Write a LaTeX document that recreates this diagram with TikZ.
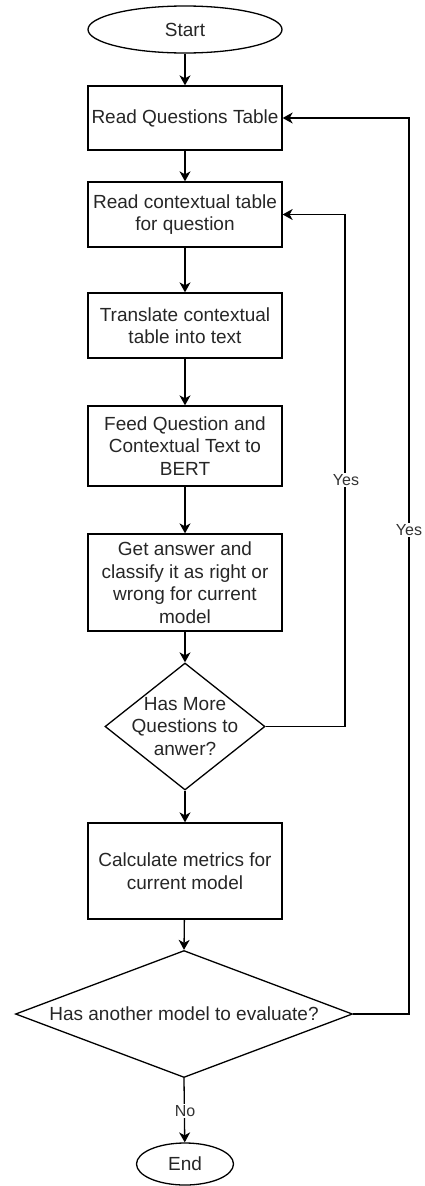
\documentclass[tikz,border=0pt]{standalone}
\usepackage{fontspec}
\setmainfont{Liberation Sans}
\usetikzlibrary{shapes.geometric,arrows.meta}
\tikzset{
  base/.style={draw=black, line width=1.3pt, inner sep=0pt, align=center,
    text=black!85, font=\fontsize{19}{22.5}\selectfont},
  procbox/.style={base, rectangle, minimum width=194pt},
  termnode/.style={base, ellipse},
  decnode/.style={base, diamond, aspect=1},
  txtnode/.style={inner sep=0pt, align=center, text=black!85, font=\fontsize{19}{22.5}\selectfont},
  conn/.style={draw=black, line width=1.3pt, -{Stealth[length=10pt,width=11pt,inset=3pt]}},
  lbl/.style={fill=white, inner sep=1.5pt, text=black!80, font=\fontsize{16}{18}\selectfont}
}
\begin{document}
\begin{tikzpicture}[x=1pt,y=-1pt]
\useasboundingbox (0,0) rectangle (425,1186);
\node[termnode, minimum width=194pt, minimum height=47pt] (start) at (185,29.5) {Start};
\node[procbox, minimum height=64pt] (b1) at (185,118) {Read Questions Table};
\node[procbox, minimum height=65pt] (b2) at (185,214.5) {Read contextual table\\for question};
\node[procbox, minimum height=65pt] (b3) at (185,325.5) {Translate contextual\\table into text};
\node[procbox, minimum height=80pt] (b4) at (185,446) {Feed Question and\\Contextual Text to\\BERT};
\node[procbox, minimum height=97pt] (b5) at (185,582.5) {Get answer and\\classify it as right or\\wrong for current\\model};
\node[decnode, minimum width=160pt, minimum height=127pt] (d1) at (185,726.5) {};
\node[txtnode] (d1t) at (d1.center) {Has More\\Questions to\\anwer?};
\node[procbox, minimum height=96pt] (b6) at (185,871) {Calculate metrics for\\current model};
\node[decnode, minimum width=337pt, minimum height=127pt] (d2) at (184,1014) {};
\node[txtnode] (d2t) at (d2.center) {Has another model to evaluate?};
\node[termnode, minimum width=97pt, minimum height=42pt] (end) at (185,1164) {End};
\coordinate (c1a) at (345,726.5);
\coordinate (c1b) at (345,214.5);
\coordinate (c2a) at (409,1014);
\coordinate (c2b) at (409,118);
\draw[conn] (start) -- (b1);
\draw[conn] (b1) -- (b2);
\draw[conn] (b2) -- (b3);
\draw[conn] (b3) -- (b4);
\draw[conn] (b4) -- (b5);
\draw[conn] (b5) -- (d1);
\draw[conn] (d1) -- (b6);
\draw[conn] (b6) -- (d2.north);
\draw[conn] (d2.south) -- (end);
\draw[conn] (d1.east) -- (c1a) -- (c1b) -- (b2.east);
\draw[conn] (d2.east) -- (c2a) -- (c2b) -- (b1.east);
\node[lbl] (yes1) at (346,480) {Yes};
\node[lbl] (yes2) at (409,530) {Yes};
\node[lbl] (no) at (185,1111) {No};
\end{tikzpicture}
\end{document}
